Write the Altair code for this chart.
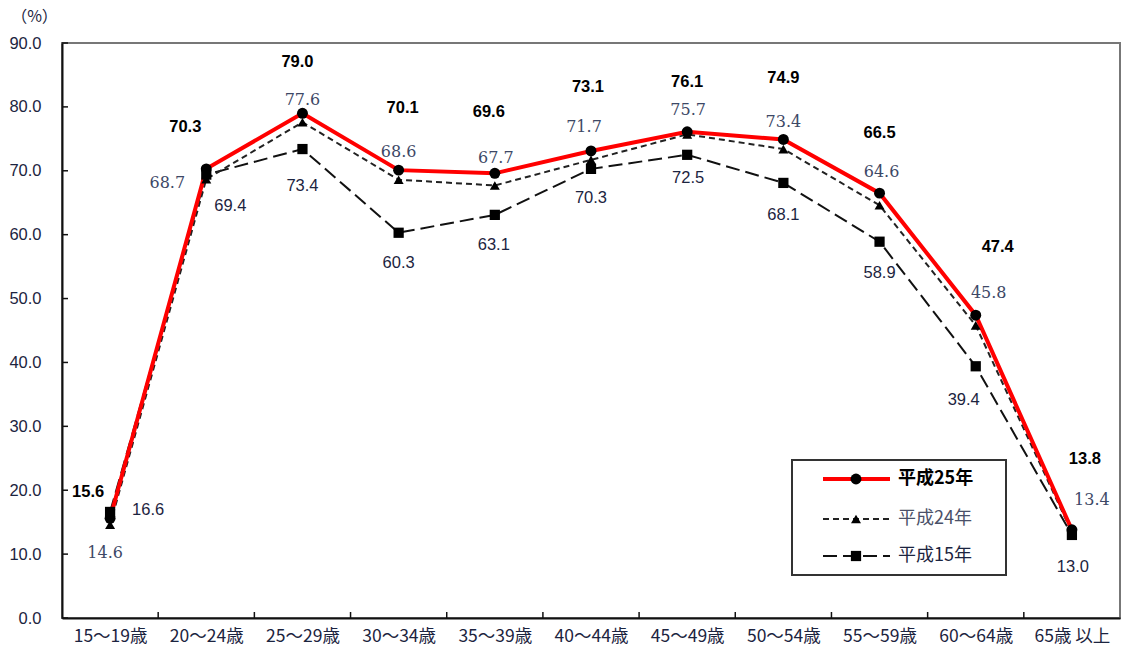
import altair as alt
import pandas as pd
import json

categories = ["15～19歳", "20～24歳", "25～29歳", "30～34歳", "35～39歳", "40～44歳",
              "45～49歳", "50～54歳", "55～59歳", "60～64歳", "65歳 以上"]
series_names = ["平成25年", "平成24年", "平成15年"]
h25 = [15.6, 70.3, 79.0, 70.1, 69.6, 73.1, 76.1, 74.9, 66.5, 47.4, 13.8]
h24 = [14.6, 68.7, 77.6, 68.6, 67.7, 71.7, 75.7, 73.4, 64.6, 45.8, 13.4]
h15 = [16.6, 69.4, 73.4, 60.3, 63.1, 70.3, 72.5, 68.1, 58.9, 39.4, 13.0]
y_ticks = [0, 10, 20, 30, 40, 50, 60, 70, 80, 90]

# label placement offsets (pixels) for the value annotations
h25_dx = [-22, -21, -5, 4, -6, -3, 0, 0, 0, 22, 13]
h25_dy = [-26, -42, -51, -62, -61, -64, -50, -61, -60, -68, -71]
h24_dx = [-5, -39, 0, 0, 1, -7, 1, 0, 2, 13, 20]
h24_dy = [28, 4, -22, -28, -27, -33, -24, -27, -33, -32, -32]
h15_dx = [38, 24, 0, 0, -1, 0, 1, 0, 0, -12, 1]
h15_dy = [-2, 31, 37, 30, 30, 29, 23, 32, 31, 34, 32]

W, H = 1058, 575
N = len(categories)
PX_X = W / N      # pixels per category
PX_Y = H / 90.0   # pixels per percent
TXT = "#1c2440"

def frame(vals, dx, dy, name):
    return pd.DataFrame({"idx": list(range(N)), "value": vals, "dx": dx, "dy": dy, "series": name})

d25 = frame(h25, h25_dx, h25_dy, series_names[0])
d24 = frame(h24, h24_dx, h24_dy, series_names[1])
d15 = frame(h15, h15_dx, h15_dy, series_names[2])

xscale = alt.Scale(domain=[-0.5, N - 0.5], nice=False, zero=False)
yscale = alt.Scale(domain=[0, 90], nice=False, zero=True)

label_expr = json.dumps(categories, ensure_ascii=False) + "[round(datum.value)]"
x_axis = alt.Axis(title=None, values=list(range(N)), labelExpr=label_expr, tickSize=0,
                  labelPadding=9, labelFont="Noto Sans CJK JP", labelFontSize=17.5,
                  labelColor=TXT, domainColor="#111", domainWidth=2, labelAngle=0,
                  grid=False, labelFlush=False, labelOverlap=False)
y_axis = alt.Axis(title="（%）", titleAngle=0, titleAlign="center", titleBaseline="middle",
                  titleX=-28, titleY=-27, titleFont="Noto Sans CJK JP", titleFontSize=16,
                  titleFontWeight="normal", titleColor=TXT,
                  values=y_ticks, format=".1f", tickSize=0, labelPadding=21,
                  labelFont="Liberation Sans", labelFontSize=16.5, labelColor=TXT,
                  domainColor="#111", domainWidth=2, grid=False)

def X(field="idx"):
    return alt.X(f"{field}:Q", scale=xscale, axis=x_axis)

def Y(field="value"):
    return alt.Y(f"{field}:Q", scale=yscale, axis=y_axis)

layers = []

# inner ticks
ytick_df = pd.DataFrame({"value": y_ticks})
layers.append(alt.Chart(ytick_df).mark_rule(color="#111", strokeWidth=1.5).encode(
    y=Y(), x=alt.value(0), x2=alt.value(6)))
xtick_df = pd.DataFrame({"idx": [i - 0.5 for i in range(1, N)]})
layers.append(alt.Chart(xtick_df).mark_rule(color="#111", strokeWidth=1.5).encode(
    x=X(), y=alt.value(H - 6), y2=alt.value(H)))

DASH24 = [6, 4]
DASH15 = [14, 6]

# lines
layers.append(alt.Chart(d15).mark_line(color="#111", strokeWidth=2, strokeDash=DASH15).encode(x=X(), y=Y()))
layers.append(alt.Chart(d24).mark_line(color="#222", strokeWidth=2, strokeDash=DASH24).encode(x=X(), y=Y()))
layers.append(alt.Chart(d25).mark_line(color="#ff0000", strokeWidth=4).encode(x=X(), y=Y()))

# markers
layers.append(alt.Chart(d15).mark_point(shape="square", filled=True, color="#000", size=105, opacity=1).encode(x=X(), y=Y()))
layers.append(alt.Chart(d24).mark_point(shape="triangle-up", filled=True, color="#000", size=100, opacity=1).encode(x=X(), y=Y()))
layers.append(alt.Chart(d25).mark_point(shape="circle", filled=True, color="#000", size=120, opacity=1).encode(x=X(), y=Y()))

# value labels (pixel offsets converted to data units)
def labels(df, font, size, weight, color):
    return alt.Chart(df).transform_calculate(
        lx=f"datum.idx + datum.dx / {PX_X}",
        ly=f"datum.value - datum.dy / {PX_Y}",
    ).mark_text(font=font, fontSize=size, fontWeight=weight, color=color,
                align="center", baseline="middle").encode(
        x=X("lx"), y=Y("ly"),
        text=alt.Text("value:Q", format=".1f"))

layers.append(labels(d25, "Liberation Sans", 16.5, "bold", "#000"))
layers.append(labels(d24, "DejaVu Serif", 16, "normal", "#3d4866"))
layers.append(labels(d15, "Liberation Sans", 16.5, "normal", TXT))

# legend (drawn manually)
one = pd.DataFrame({"a": [0]})
LX0, LX1, LY0, LY1 = 730, 944, 417, 532
layers.append(alt.Chart(one).mark_rect(fill="white", stroke="#333", strokeWidth=2).encode(
    x=alt.value(LX0), x2=alt.value(LX1), y=alt.value(LY0), y2=alt.value(LY1)))
leg_rows = [
    (series_names[0], 436, dict(color="#ff0000", strokeWidth=4), "circle", 120, "bold", "#000"),
    (series_names[1], 476, dict(color="#222", strokeWidth=2, strokeDash=DASH24), "triangle-up", 100, "normal", "#4a5068"),
    (series_names[2], 513, dict(color="#111", strokeWidth=2, strokeDash=DASH15), "square", 105, "normal", TXT),
]
for name, ly, lstyle, shape, size, weight, tcol in leg_rows:
    layers.append(alt.Chart(one).mark_rule(**lstyle).encode(
        x=alt.value(761), x2=alt.value(828), y=alt.value(ly)))
    layers.append(alt.Chart(one).mark_point(shape=shape, filled=True, color="#000", size=size, opacity=1).encode(
        x=alt.value(794), y=alt.value(ly)))
    layers.append(alt.Chart(pd.DataFrame({"t": [name]})).mark_text(
        font="Noto Sans CJK JP", fontSize=18, fontWeight=weight, color=tcol,
        align="left", baseline="middle").encode(
        x=alt.value(836), y=alt.value(ly), text="t:N"))

chart = alt.layer(*layers).properties(
    width=W, height=H,
    autosize=alt.AutoSizeParams(type="none"),
    padding={"left": 62, "top": 43, "right": 1, "bottom": 30},
    background="white",
).configure_view(stroke="#777", strokeWidth=2)

chart.save("out.html", embed_options={"renderer": "svg", "actions": False})
